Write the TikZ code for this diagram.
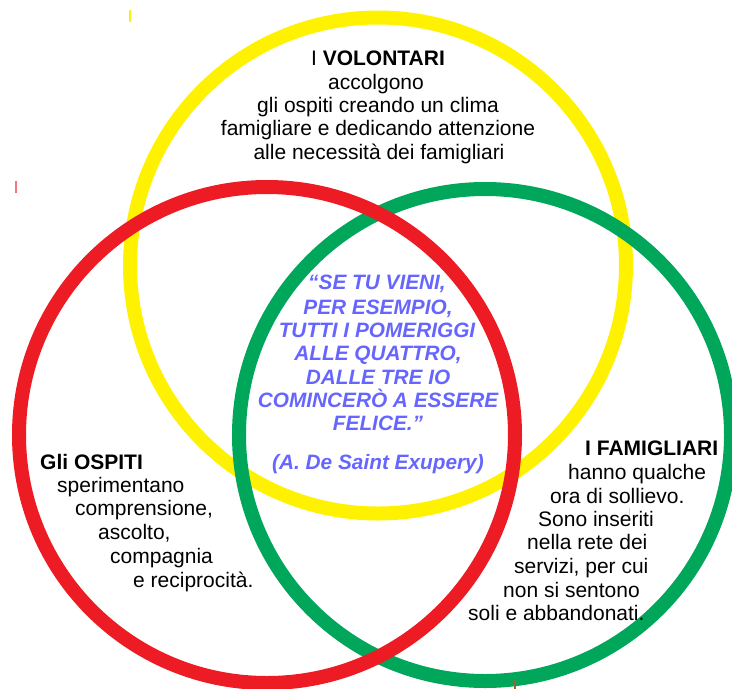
\documentclass[tikz,border=0pt]{standalone}
\usepackage{fontspec}
\setmainfont{Liberation Sans}
\definecolor{cyel}{RGB}{255,242,0}
\definecolor{cred}{RGB}{237,28,36}
\definecolor{cgrn}{RGB}{0,166,90}
\definecolor{cblu}{RGB}{102,102,255}
\tikzset{
  ring/.style={line width=14pt},
  txt/.style={inner sep=0pt,font=\fontsize{21}{23.5}\selectfont},
  lline/.style={txt,anchor=base west},
  cline/.style={txt,anchor=base},
  qline/.style={txt,anchor=base,text=cblu,font=\fontsize{20.8}{23.5}\selectfont\bfseries\itshape},
  tick/.style={line width=1.2pt}
}
\begin{document}
\begin{tikzpicture}[x=1pt,y=-1pt]
\useasboundingbox (0,0) rectangle (732,689);
% circles
\draw[ring,cyel] (378,265.5) circle[radius=248];
\draw[ring,cgrn] (485,435) circle[radius=246];
\draw[ring,cred] (267,435) circle[radius=248];
% small marks
\draw[tick,cyel] (130,10) -- (130,22);
\draw[tick,cred!60] (16,181) -- (16,193);
\draw[tick,brown!80!black] (515,680) -- (515,689);
\draw[line width=0.8pt,cyel] (629,508) -- (629,517);
% top text
\node[cline] (v1) at (378,65) {I \textbf{VOLONTARI}};
\node[cline] (v2) at (376,89) {accolgono};
\node[cline] (v3) at (378,112) {gli ospiti creando un clima};
\node[cline] (v4) at (378,135) {famigliare e dedicando attenzione};
\node[cline] (v5) at (379,159) {alle necessità dei famigliari};
% quote
\node[qline] (q1) at (377,289) {“SE TU VIENI,};
\node[qline] (q2) at (378,314) {PER ESEMPIO,};
\node[qline] (q3) at (377,337) {TUTTI I POMERIGGI};
\node[qline] (q4) at (378,360) {ALLE QUATTRO,};
\node[qline] (q5) at (378,384) {DALLE TRE IO};
\node[qline] (q6) at (378,407) {COMINCERÒ A ESSERE};
\node[qline] (q7) at (378,430) {FELICE.”};
\node[qline] (q8) at (378,469) {(A. De Saint Exupery)};
% left text
\node[lline] (o1) at (40,469) {\textbf{Gli OSPITI}};
\node[lline] (o2) at (57,492) {sperimentano};
\node[lline] (o3) at (75,515) {comprensione,};
\node[lline] (o4) at (98,539) {ascolto,};
\node[lline] (o5) at (110,563) {compagnia};
\node[lline] (o6) at (133,587) {e reciprocità.};
% right text
\node[lline] (f1) at (585,455) {\textbf{I FAMIGLIARI}};
\node[lline] (f2) at (568,479) {hanno qualche};
\node[lline] (f3) at (550,503) {ora di sollievo.};
\node[lline] (f4) at (538,526) {Sono inseriti};
\node[lline] (f5) at (527,549) {nella rete dei};
\node[lline] (f6) at (514,573) {servizi, per cui};
\node[lline] (f7) at (503,597) {non si sentono};
\node[lline] (f8) at (468,620) {soli e abbandonati.};
\end{tikzpicture}
\end{document}
